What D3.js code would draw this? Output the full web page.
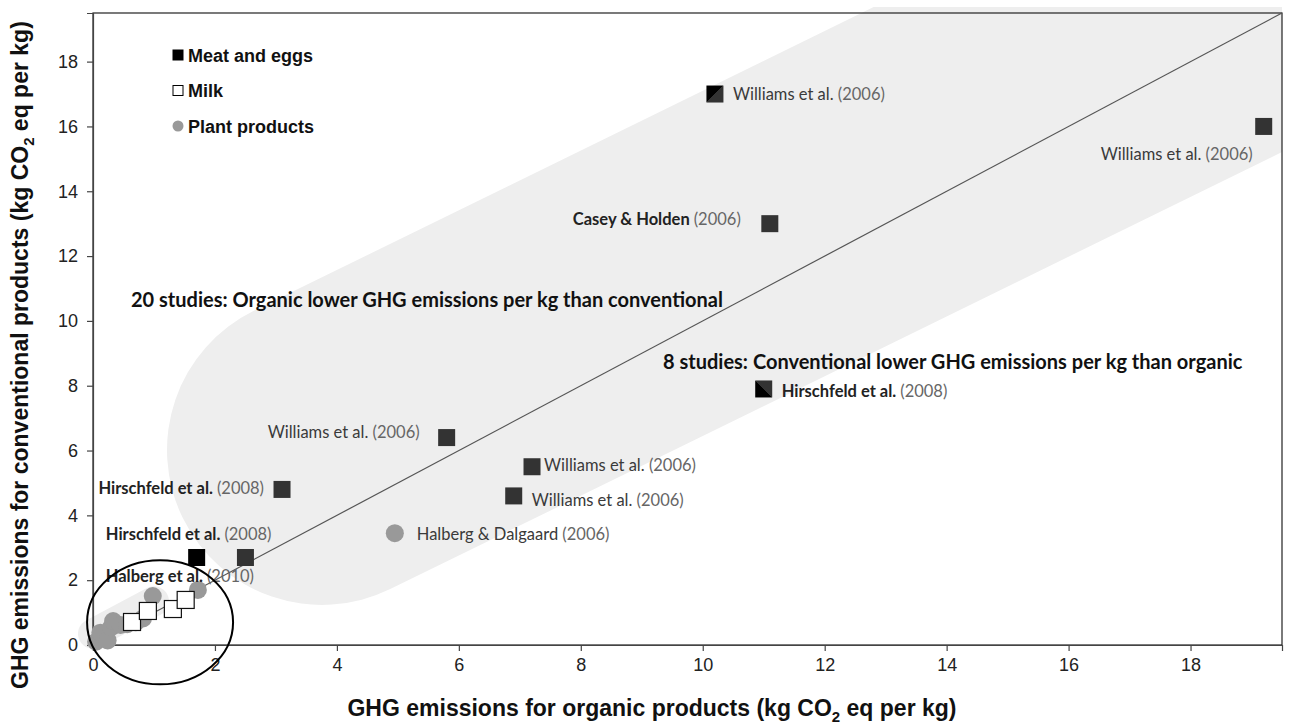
<!DOCTYPE html>
<html>
<head>
<meta charset="utf-8">
<script src="https://cdn.jsdelivr.net/npm/d3@7"></script>
<style>
  body { margin: 0; background: #fff; }
  svg { display: block; }
</style>
</head>
<body>
<svg id="chart" width="1290" height="726"></svg>
<script>
// ---- data ----------------------------------------------------------
const xTickValues = [0, 2, 4, 6, 8, 10, 12, 14, 16, 18];
const yTickValues = [0, 2, 4, 6, 8, 10, 12, 14, 16, 18];

// Meat and eggs: organic vs conventional emissions (kg CO2 eq per kg)
const meatOrganic      = [10.2, 19.2, 11.1, 11.0, 5.8, 7.2, 6.9, 3.1, 1.7, 2.5];
const meatConventional = [17.0, 16.0, 13.0, 7.9, 6.4, 5.5, 4.6, 4.8, 2.7, 2.7];
const meatStudy = ["Williams et al.", "Williams et al.", "Casey & Holden", "Hirschfeld et al.",
                   "Williams et al.", "Williams et al.", "Williams et al.", "Hirschfeld et al.",
                   "Hirschfeld et al.", ""];
const meatYear  = ["(2006)", "(2006)", "(2006)", "(2008)", "(2006)", "(2006)", "(2006)", "(2008)", "(2008)", ""];

// Milk
const milkOrganic      = [0.64, 0.90, 1.31, 1.52];
const milkConventional = [0.71, 1.05, 1.11, 1.39];

// Plant products
const plantOrganic      = [0.05, 0.12, 0.24, 0.30, 0.33, 0.45, 0.56, 0.70, 0.82, 0.98, 1.72, 4.95];
const plantConventional = [0.10, 0.38, 0.14, 0.55, 0.74, 0.62, 0.64, 0.70, 0.82, 1.51, 1.70, 3.45];
const plantStudy = ["", "", "", "", "", "", "", "", "", "", "Halberg et al.", "Halberg & Dalgaard"];
const plantYear  = ["", "", "", "", "", "", "", "", "", "", "(2010)", "(2006)"];

const legendLabels = ["Meat and eggs", "Milk", "Plant products"];
const noteOrganic = "20 studies: Organic lower GHG emissions per kg than conventional";
const noteConventional = "8 studies: Conventional lower GHG emissions per kg than organic";

// ---- layout --------------------------------------------------------
// label offsets (px) from each marker: [dx, dy, anchor]
const meatLabelPos = [[18, 6, "start"], [-11, 34, "end"], [-29, 1, "end"], [18, 8, "start"],
                      [-27, 0, "end"], [12, 4, "start"], [18, 10, "start"], [-18, 5, "end"],
                      [-8, -17, "middle"], [0, 0, "start"]];
const plantLabelPos = { 10: [-18, -8, "middle"], 11: [22, 7, "start"] };
const boldStudy = new Set(["Hirschfeld et al.", "Halberg et al.", "Casey & Holden"]);

const svg = d3.select("#chart");
const plot = { left: 93, right: 1282, top: 13, bottom: 645 };

const x = d3.scaleLinear().domain([0, 19.5]).range([plot.left, plot.right]);
const y = d3.scaleLinear().domain([0, 19.5]).range([plot.bottom, plot.top]);

const defs = svg.append("defs");
defs.append("clipPath").attr("id", "bandClip")
  .append("rect").attr("x", 0).attr("y", 7).attr("width", plot.right).attr("height", 726);

// split-shaded squares
function splitGradient(id, x1, y1, x2, y2) {
  const g = defs.append("linearGradient").attr("id", id)
    .attr("x1", x1).attr("y1", y1).attr("x2", x2).attr("y2", y2);
  g.append("stop").attr("offset", "50%").attr("stop-color", "#000");
  g.append("stop").attr("offset", "50%").attr("stop-color", "#333");
}
splitGradient("splitA", "0", "0", "1", "1");
splitGradient("splitB", "0", "1", "1", "0");
const meatFill = ["url(#splitA)", "#333", "#333", "url(#splitB)", "#333", "#333", "#333", "#333", "#000", "#333"];

// ---- shaded bands --------------------------------------------------
// broad band (round-capped) running up-right from the lower-left cluster
const bandAngle = Math.atan(0.49);
const bandHalf = 155;
const capX = x(3.756), capY = y(6.02);
const farX = capX + 2200 * Math.cos(bandAngle), farY = capY - 2200 * Math.sin(bandAngle);
svg.append("g").attr("clip-path", "url(#bandClip)")
  .append("line")
  .attr("x1", capX).attr("y1", capY).attr("x2", farX).attr("y2", farY)
  .attr("stroke", "#eeeeee").attr("stroke-width", bandHalf * 2)
  .attr("stroke-linecap", "round");

// small band hugging the plant cluster near the origin
svg.append("line")
  .attr("x1", x(0.0)).attr("y1", y(0.35))
  .attr("x2", x(1.0)).attr("y2", y(1.35))
  .attr("stroke", "#eeeeee").attr("stroke-width", 30)
  .attr("stroke-linecap", "round");

// ---- frame and axes ------------------------------------------------
svg.append("rect")
  .attr("x", plot.left).attr("y", plot.top)
  .attr("width", plot.right - plot.left).attr("height", plot.bottom - plot.top)
  .attr("fill", "none").attr("stroke", "#222").attr("stroke-width", 1.2);

const xAxis = svg.append("g").attr("transform", `translate(0,${plot.bottom})`)
  .call(d3.axisBottom(x).tickValues(xTickValues).tickSize(6).tickPadding(7).tickFormat(d3.format("d")));
const yAxis = svg.append("g").attr("transform", `translate(${plot.left},0)`)
  .call(d3.axisLeft(y).tickValues(yTickValues).tickSize(6).tickPadding(9).tickFormat(d3.format("d")));
[xAxis, yAxis].forEach(a => {
  a.select(".domain").attr("stroke", "#444").attr("stroke-width", 1.2);
  a.selectAll(".tick line").attr("stroke", "#444").attr("stroke-width", 1.2);
  a.selectAll(".tick text").attr("fill", "#222")
    .style("font-family", "'Liberation Sans', Arial, sans-serif").style("font-size", "18px");
});

// 1:1 line
svg.append("line")
  .attr("x1", x(0)).attr("y1", y(0)).attr("x2", x(19.5)).attr("y2", y(19.5))
  .attr("stroke", "#555").attr("stroke-width", 1.2);

// ---- axis titles ---------------------------------------------------
const titleFont = "'Liberation Sans', Arial, sans-serif";
const xt = svg.append("text")
  .attr("x", 652).attr("y", 716).attr("text-anchor", "middle")
  .style("font-family", titleFont).style("font-weight", "bold").style("font-size", "23px")
  .attr("fill", "#111");
xt.append("tspan").text("GHG emissions for organic products (kg CO");
xt.append("tspan").attr("dy", 6).style("font-size", "15px").text("2");
xt.append("tspan").attr("dy", -6).text(" eq per kg)");

const yt = svg.append("text")
  .attr("transform", "translate(28,689) rotate(-90)").attr("text-anchor", "start")
  .style("font-family", titleFont).style("font-weight", "bold").style("font-size", "23px")
  .attr("fill", "#111");
yt.append("tspan").text("GHG emissions for conventional products (kg CO");
yt.append("tspan").attr("dy", 6).style("font-size", "15px").text("2");
yt.append("tspan").attr("dy", -6).text(" eq per kg)");

// ---- markers -------------------------------------------------------
const sq = 17;
const plantIdx = d3.range(plantOrganic.length);
svg.append("g").selectAll("circle").data(plantIdx).join("circle")
  .attr("cx", i => x(plantOrganic[i])).attr("cy", i => y(plantConventional[i]))
  .attr("r", 9).attr("fill", "#999");

const milkIdx = d3.range(milkOrganic.length);
svg.append("g").selectAll("rect").data(milkIdx).join("rect")
  .attr("x", i => x(milkOrganic[i]) - sq / 2).attr("y", i => y(milkConventional[i]) - sq / 2)
  .attr("width", sq).attr("height", sq)
  .attr("fill", "#fff").attr("stroke", "#111").attr("stroke-width", 1.2);

const meatIdx = d3.range(meatOrganic.length);
svg.append("g").selectAll("rect").data(meatIdx).join("rect")
  .attr("x", i => x(meatOrganic[i]) - sq / 2).attr("y", i => y(meatConventional[i]) - sq / 2)
  .attr("width", sq).attr("height", sq)
  .attr("fill", i => meatFill[i]);

// ---- point labels --------------------------------------------------
const labelFont = "Lato, 'Open Sans', sans-serif";
function addLabel(px, py, pos, study, year) {
  if (!study) return;
  const strong = boldStudy.has(study);
  const t = svg.append("text")
    .attr("x", px + pos[0]).attr("y", py + pos[1])
    .attr("text-anchor", pos[2])
    .style("font-family", labelFont).style("font-size", "16.5px");
  t.append("tspan").attr("fill", strong ? "#222" : "#3a3a3a")
    .style("font-weight", strong ? 700 : 400).text(study + " ");
  t.append("tspan").attr("fill", "#666").text(year);
}
meatIdx.forEach(i => addLabel(x(meatOrganic[i]), y(meatConventional[i]), meatLabelPos[i], meatStudy[i], meatYear[i]));
plantIdx.forEach(i => {
  if (plantLabelPos[i]) addLabel(x(plantOrganic[i]), y(plantConventional[i]), plantLabelPos[i], plantStudy[i], plantYear[i]);
});

// ---- region notes --------------------------------------------------
const noteStyle = s => s.style("font-family", labelFont).style("font-weight", 700)
  .style("font-size", "20px").attr("fill", "#111");
svg.append("text").attr("x", 131).attr("y", 307).text(noteOrganic).call(noteStyle);
svg.append("text").attr("x", 663).attr("y", 369).text(noteConventional).call(noteStyle);

// ---- ellipse around the low-emission cluster ------------------------
svg.append("ellipse")
  .attr("cx", x(1.1)).attr("cy", y(0.7)).attr("rx", 73).attr("ry", 62)
  .attr("fill", "none").attr("stroke", "#000").attr("stroke-width", 2);

// ---- legend --------------------------------------------------------
const legend = svg.append("g").attr("transform", "translate(178,55)");
const legendRow = 35.5;
legendLabels.forEach((lab, i) => {
  const g = legend.append("g").attr("transform", `translate(0,${i * legendRow})`);
  if (i === 0) g.append("rect").attr("x", -5.5).attr("y", -5.5).attr("width", 11).attr("height", 11).attr("fill", "#000");
  if (i === 1) g.append("rect").attr("x", -5).attr("y", -5).attr("width", 10).attr("height", 10)
    .attr("fill", "#fff").attr("stroke", "#000").attr("stroke-width", 1);
  if (i === 2) g.append("circle").attr("r", 5.5).attr("fill", "#999");
  g.append("text").attr("x", 10).attr("y", 6.5)
    .style("font-family", titleFont).style("font-weight", "bold").style("font-size", "18px")
    .attr("fill", "#111").text(lab);
});
</script>
</body>
</html>
